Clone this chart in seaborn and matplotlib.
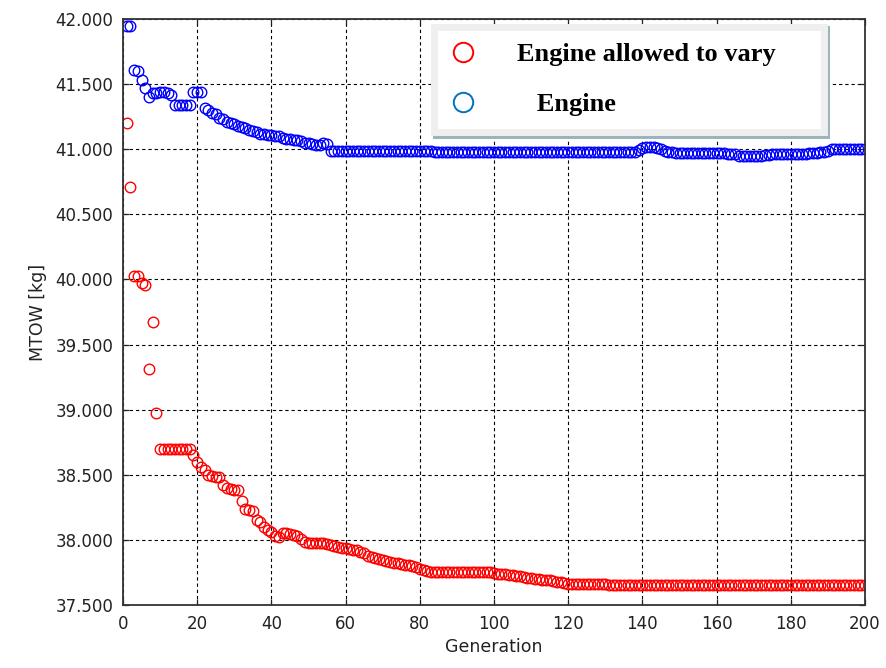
import matplotlib
matplotlib.use("Agg")
import matplotlib.pyplot as plt
import matplotlib.ticker as mticker
from matplotlib.lines import Line2D
import seaborn as sns

# generation number and best MTOW [kg] per generation
generation = list(range(1, 201))

mtow_engine_vary = [
    41200, 40710, 40030, 40025, 39970, 39960, 39315, 39670, 38975, 38700,
    38700, 38700, 38700, 38700, 38700, 38700, 38700, 38700, 38650, 38600,
    38560, 38540, 38500, 38490, 38480, 38480, 38420, 38400, 38390, 38385,
    38380, 38300, 38240, 38230, 38225, 38150, 38140, 38100, 38075, 38060,
    38030, 38020, 38050, 38050, 38045, 38040, 38030, 38010, 37980, 37975,
    37975, 37975, 37975, 37975, 37970, 37960, 37950, 37945, 37940, 37935,
    37930, 37920, 37920, 37910, 37900, 37880, 37870, 37860, 37850, 37845,
    37840, 37830, 37825, 37820, 37815, 37810, 37810, 37800, 37790, 37780,
    37770, 37760, 37755, 37750, 37750, 37750, 37750, 37750, 37750, 37750,
    37750, 37750, 37750, 37750, 37750, 37750, 37750, 37750, 37750, 37745,
    37740, 37740, 37735, 37730, 37730, 37725, 37720, 37715, 37710, 37710,
    37700, 37700, 37695, 37690, 37690, 37685, 37680, 37675, 37670, 37665,
    37665, 37665, 37665, 37665, 37665, 37665, 37665, 37665, 37665, 37660,
    37655, 37655, 37655, 37655, 37655, 37655, 37655, 37655, 37655, 37655,
    37655, 37655, 37655, 37655, 37655, 37655, 37655, 37655, 37655, 37655,
    37655, 37655, 37655, 37655, 37655, 37655, 37655, 37655, 37655, 37655,
    37655, 37655, 37655, 37655, 37655, 37655, 37655, 37655, 37655, 37655,
    37655, 37655, 37655, 37655, 37655, 37655, 37655, 37655, 37655, 37655,
    37655, 37655, 37655, 37655, 37655, 37655, 37655, 37655, 37655, 37655,
    37655, 37655, 37655, 37655, 37655, 37655, 37655, 37655, 37655, 37655,
]

mtow_engine = [
    41950, 41950, 41610, 41600, 41530, 41470, 41400, 41430, 41430, 41440,
    41440, 41430, 41420, 41340, 41340, 41340, 41340, 41340, 41440, 41440,
    41440, 41320, 41300, 41280, 41270, 41240, 41230, 41210, 41200, 41190,
    41180, 41170, 41160, 41150, 41140, 41130, 41120, 41120, 41110, 41110,
    41100, 41100, 41090, 41080, 41080, 41070, 41070, 41060, 41050, 41050,
    41040, 41030, 41030, 41050, 41040, 40990, 40985, 40985, 40985, 40985,
    40985, 40985, 40985, 40985, 40985, 40985, 40985, 40985, 40985, 40985,
    40985, 40985, 40985, 40985, 40985, 40985, 40985, 40985, 40985, 40985,
    40985, 40985, 40985, 40980, 40980, 40980, 40980, 40980, 40980, 40980,
    40980, 40980, 40980, 40980, 40980, 40980, 40980, 40980, 40980, 40980,
    40980, 40980, 40980, 40980, 40980, 40980, 40980, 40980, 40980, 40980,
    40980, 40980, 40980, 40980, 40980, 40980, 40980, 40980, 40980, 40980,
    40980, 40980, 40980, 40980, 40980, 40980, 40980, 40980, 40980, 40980,
    40980, 40980, 40980, 40980, 40980, 40980, 40980, 40980, 40995, 41010,
    41015, 41015, 41015, 41010, 41000, 40990, 40980, 40975, 40970, 40970,
    40970, 40970, 40970, 40970, 40970, 40970, 40970, 40970, 40970, 40970,
    40970, 40970, 40965, 40965, 40960, 40950, 40950, 40950, 40950, 40950,
    40950, 40950, 40955, 40955, 40960, 40960, 40960, 40960, 40960, 40965,
    40965, 40965, 40965, 40965, 40970, 40970, 40970, 40975, 40980, 40990,
    41000, 41000, 41000, 41000, 41000, 41000, 41000, 41000, 41000, 41000,
]

series_labels = ["Engine allowed to vary", "   Engine"]
yticks = [37500, 38000, 38500, 39000, 39500, 40000, 40500, 41000, 41500, 42000]
xticks = [0, 20, 40, 60, 80, 100, 120, 140, 160, 180, 200]

plt.rcParams["font.family"] = ["DejaVu Sans"]

fig = plt.figure(figsize=(8.86, 6.68), dpi=100)
ax = fig.add_axes([123 / 886, 1 - 605 / 668, 742 / 886, 586 / 668])

sns.lineplot(x=generation, y=mtow_engine_vary, ax=ax, linestyle="", marker="o",
             markersize=7.6, markerfacecolor="none", markeredgecolor="#ff0000",
             markeredgewidth=1.0, color="#ff0000", errorbar=None, sort=False)
sns.lineplot(x=generation, y=mtow_engine, ax=ax, linestyle="", marker="o",
             markersize=7.6, markerfacecolor="none", markeredgecolor="#0000ff",
             markeredgewidth=1.0, color="#0000ff", errorbar=None, sort=False)

ax.set_xlim(0, 200)
ax.set_ylim(37500, 42000)
ax.set_xticks(xticks)
ax.set_yticks(yticks)
ax.yaxis.set_major_formatter(
    mticker.FuncFormatter(lambda v, p: f"{v:,.0f}".replace(",", ".")))

ax.grid(True, color="black", linestyle=(0, (3, 2.6)), linewidth=0.8)
ax.set_axisbelow(True)
ax.tick_params(direction="in", length=4, width=0.9, top=True, right=True,
               labelsize=12, pad=7, colors="#222222", labelcolor="#222222")
for s in ax.spines.values():
    s.set_linewidth(1.3)
    s.set_color("#333333")

ax.set_xlabel("Generation", fontsize=12.5, color="#222222", labelpad=4)
ax.set_ylabel("MTOW [kg]", fontsize=12.5, color="#222222", labelpad=6)

handles = [
    Line2D([], [], linestyle="", marker="o", markersize=14, markerfacecolor="none",
           markeredgecolor="#ff0000", markeredgewidth=1.4),
    Line2D([], [], linestyle="", marker="o", markersize=14, markerfacecolor="none",
           markeredgecolor="#0072bd", markeredgewidth=1.4),
]
leg = ax.legend(handles, series_labels, loc="upper left",
                bbox_to_anchor=(433.5 / 886, 1 - 26.5 / 668, 390 / 886, 0),
                bbox_transform=fig.transFigure, mode="expand", borderaxespad=0,
                prop={"family": "Liberation Serif", "weight": "bold", "size": 19},
                borderpad=0.6, handlelength=1.06, handletextpad=1.5,
                labelspacing=1.02, fancybox=False, framealpha=1,
                shadow={"color": "#9db3bc", "alpha": 1})
frame = leg.get_frame()
frame.set_facecolor("white")
frame.set_edgecolor("#efefef")
frame.set_linewidth(5)

fig.savefig("out.png", dpi=100)
